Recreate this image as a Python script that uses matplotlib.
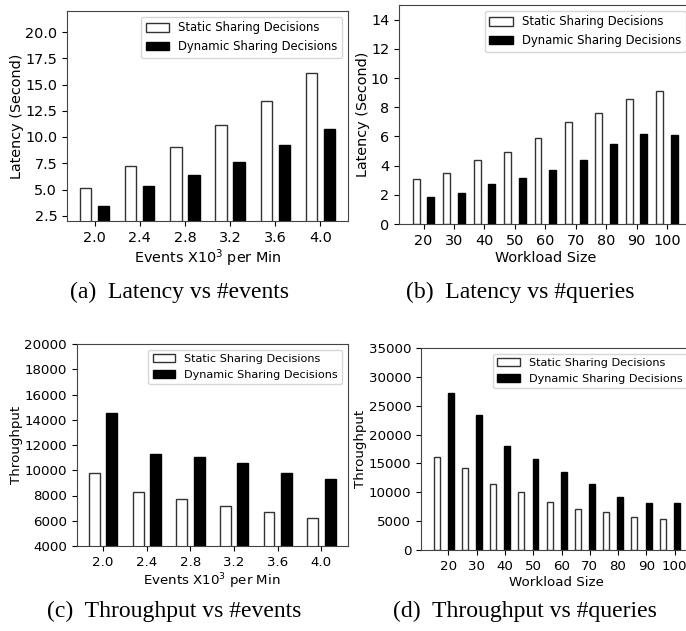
import numpy as np
import matplotlib
matplotlib.use("Agg")
import matplotlib.pyplot as plt

# (a) latency vs events
events = ["2.0", "2.4", "2.8", "3.2", "3.6", "4.0"]
lat_ev_static = [5.15, 7.25, 9.05, 11.15, 13.4, 16.1]
lat_ev_dynamic = [3.45, 5.35, 6.4, 7.6, 9.25, 10.8]

# (b) latency vs workload size
workload = ["20", "30", "40", "50", "60", "70", "80", "90", "100"]
lat_wl_static = [3.1, 3.5, 4.35, 4.95, 5.9, 7.0, 7.6, 8.55, 9.1]
lat_wl_dynamic = [1.85, 2.15, 2.75, 3.15, 3.7, 4.35, 5.45, 6.15, 6.1]

# (c) throughput vs events
thr_ev_static = [9800, 8300, 7750, 7150, 6700, 6250]
thr_ev_dynamic = [14500, 11300, 11050, 10580, 9750, 9280]

# (d) throughput vs workload size
thr_wl_static = [16100, 14150, 11500, 10100, 8400, 7150, 6550, 5800, 5450]
thr_wl_dynamic = [27150, 23350, 18100, 15850, 13550, 11500, 9250, 8100, 8200]

W, H = 686, 631
fig = plt.figure(figsize=(W / 100, H / 100), dpi=100)


def box(l, t, r, b):
    # pixel box -> figure fraction rect
    return [l / W, 1 - b / H, (r - l) / W, (b - t) / H]


def panel(rect, labels, static, dynamic, offs, width, xlim, ylim, yticks,
          xlabel, ylabel, fs, lfs):
    ax = fig.add_axes(rect)
    x = np.arange(len(labels))
    ax.bar(x + offs[0], static, width, color="white", edgecolor="#333333",
           linewidth=1.0, label="Static Sharing Decisions")
    ax.bar(x + offs[1], dynamic, width, color="black", edgecolor="black",
           linewidth=1.0, label="Dynamic Sharing Decisions")
    ax.set_xticks(x)
    ax.set_xticklabels(labels)
    ax.set_xlim(*xlim)
    ax.set_ylim(*ylim)
    ax.set_yticks(yticks)
    ax.tick_params(labelsize=fs)
    ax.set_xlabel(xlabel, fontsize=fs, labelpad=2)
    ax.set_ylabel(ylabel, fontsize=fs, labelpad=1)
    ax.legend(loc="upper right", fontsize=lfs)
    for s in ax.spines.values():
        s.set_color("#444444")
    return ax


ax_a = panel(box(67, 11, 348, 221), events, lat_ev_static, lat_ev_dynamic,
             (-0.2, 0.2), 0.25, (-0.61, 5.61), (2.0, 22.0),
             [2.5, 5.0, 7.5, 10.0, 12.5, 15.0, 17.5, 20.0],
             "Events X10$^3$ per Min", "Latency (Second)", 10.4, 8.4)
ax_a.set_yticklabels(["2.5", "5.0", "7.5", "10.0", "12.5", "15.0", "17.5", "20.0"])

ax_b = panel(box(399, 5, 691.6, 224), workload, lat_wl_static, lat_wl_dynamic,
             (-0.24, 0.24), 0.23, (-0.81, 8.81), (0, 15),
             range(0, 15, 2), "Workload Size", "Latency (Second)", 10.4, 8.4)

ax_c = panel(box(76.5, 344, 348, 546), events, thr_ev_static, thr_ev_dynamic,
             (-0.2, 0.2), 0.25, (-0.61, 5.61), (4000, 20000),
             range(4000, 20001, 2000),
             "Events X10$^3$ per Min", "Throughput", 9.6, 8.1)

ax_d = panel(box(421, 348, 692.4, 550), workload, thr_wl_static, thr_wl_dynamic,
             (-0.42, 0.08), 0.21, (-0.97, 8.63), (0, 35000),
             range(0, 35001, 5000), "Workload Size", "Throughput", 9.6, 8.1)

caps = [("(a)  Latency vs #events", 179, 292),
        ("(b)  Latency vs #queries", 520, 292),
        ("(c)  Throughput vs #events", 174, 611),
        ("(d)  Throughput vs #queries", 525, 611)]
for txt, cx, cy in caps:
    fig.text(cx / W, 1 - cy / H, txt, ha="center", va="center",
             fontsize=17, family="Liberation Serif")

fig.savefig("out.png", dpi=100)
